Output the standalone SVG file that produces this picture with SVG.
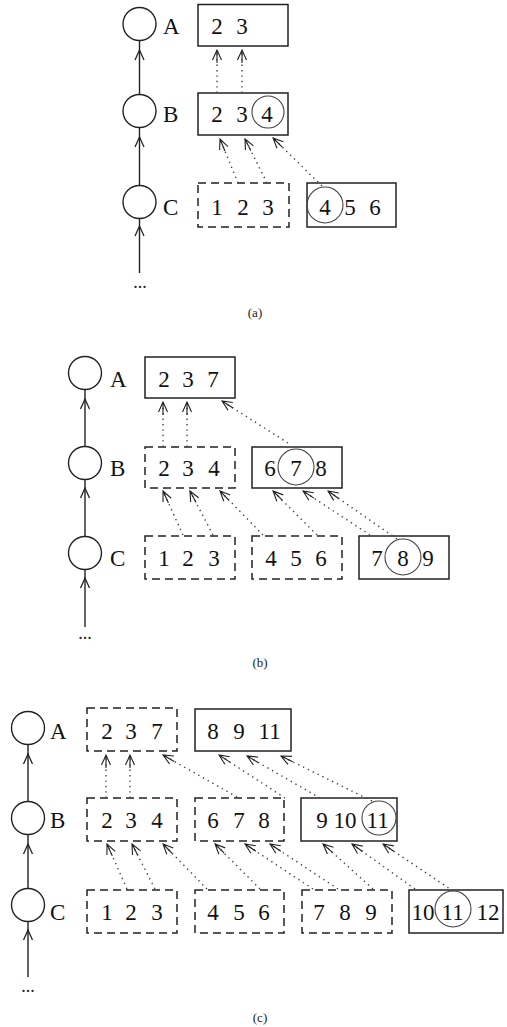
<svg xmlns="http://www.w3.org/2000/svg" width="507" height="1027" viewBox="0 0 507 1027">
<style>
.box{fill:none;stroke:#222;stroke-width:1.5}
.dbox{fill:none;stroke:#222;stroke-width:1.5;stroke-dasharray:8 5}
.node{fill:#fff;stroke:#222;stroke-width:1.4}
.ring{fill:none;stroke:#444;stroke-width:1.1}
.num{font-family:"Liberation Serif",serif;font-size:23px;fill:#111}
.cap{font-family:"Liberation Serif",serif;font-size:13px;fill:#222;text-anchor:middle}
.dots{font-family:"Liberation Serif",serif;font-size:18px;fill:#222;text-anchor:middle}
.dl{fill:none;stroke:#444;stroke-width:1.4;stroke-dasharray:1.4 4;marker-end:url(#ahd)}
.sl{fill:none;stroke:#222;stroke-width:1.4;marker-mid:url(#ahs)}
</style>
<defs>
<marker id="ahd" markerUnits="userSpaceOnUse" markerWidth="30" markerHeight="30" refX="0" refY="0" orient="auto" overflow="visible">
<path d="M-10,-4.5 L0,0 L-10,4.5 M-13,0 L0,0" fill="none" stroke="#222" stroke-width="1.1"/>
</marker>
<marker id="ahs" markerUnits="userSpaceOnUse" markerWidth="30" markerHeight="30" refX="0" refY="0" orient="auto" overflow="visible">
<path d="M-10,-4.5 L0,0 L-10,4.5" fill="none" stroke="#222" stroke-width="1.3"/>
</marker>
</defs>

<!-- ===== Panel (a) ===== -->
<g id="a-nodeA"><circle class="node" cx="139.5" cy="24" r="16.5"/><text class="num" x="163" y="34">A</text></g>
<g id="a-nodeB"><circle class="node" cx="139.5" cy="111" r="16.5"/><text class="num" x="163" y="122">B</text></g>
<g id="a-nodeC"><circle class="node" cx="139.5" cy="202" r="16.5"/><text class="num" x="163" y="215">C</text></g>
<g id="a-more"><text class="dots" x="140" y="288">...</text></g>
<g id="a-A1"><rect class="box" x="198" y="4.5" width="90" height="41.5"/><text class="num" y="34"><tspan x="211.25">2</tspan> <tspan x="236.25">3</tspan></text></g>
<g id="a-B1"><rect class="box" x="198" y="93" width="90" height="42"/><text class="num" y="122"><tspan x="211.25">2</tspan> <tspan x="236.25">3</tspan> <tspan x="261.25">4</tspan></text><circle class="ring" cx="268" cy="112" r="16"/></g>
<g id="a-C1"><rect class="dbox" x="198" y="183" width="91" height="44"/><text class="num" y="215"><tspan x="211.25">1</tspan> <tspan x="237.25">2</tspan> <tspan x="262.25">3</tspan></text></g>
<g id="a-C2"><rect class="box" x="307" y="183" width="89" height="44"/><text class="num" y="215"><tspan x="319.25">4</tspan> <tspan x="344.25">5</tspan> <tspan x="369.25">6</tspan></text><circle class="ring" cx="325" cy="205" r="18"/></g>
<g id="a-connectors">
<path class="sl" d="M139.5,273 L139.5,226 L139.5,218.5"/>
<path class="sl" d="M139.5,185.5 L139.5,137 L139.5,127.5"/>
<path class="sl" d="M139.5,94.5 L139.5,50 L139.5,40.5"/>
<path class="dl" d="M217,93 L217,50"/>
<path class="dl" d="M242,93 L242,50"/>
<path class="dl" d="M238,183 L220,139"/>
<path class="dl" d="M267,183 L245,139"/>
<path class="dl" d="M322,186 L273,138"/>
</g>
<text class="cap" x="255" y="317">(a)</text>

<!-- ===== Panel (b) ===== -->
<g id="b-nodeA"><circle class="node" cx="85" cy="373" r="16.5"/><text class="num" x="110" y="387">A</text></g>
<g id="b-nodeB"><circle class="node" cx="85" cy="463" r="16.5"/><text class="num" x="110" y="476">B</text></g>
<g id="b-nodeC"><circle class="node" cx="85" cy="553" r="16.5"/><text class="num" x="110" y="566">C</text></g>
<g id="b-more"><text class="dots" x="85" y="639">...</text></g>
<g id="b-A1"><rect class="box" x="145" y="357" width="90" height="41"/><text class="num" y="387"><tspan x="158.25">2</tspan> <tspan x="182.25">3</tspan> <tspan x="207.25">7</tspan></text></g>
<g id="b-B1"><rect class="dbox" x="145" y="447" width="90" height="41"/><text class="num" y="476"><tspan x="158.25">2</tspan> <tspan x="182.25">3</tspan> <tspan x="208.25">4</tspan></text></g>
<g id="b-B2"><rect class="box" x="252" y="447" width="90" height="41"/><text class="num" y="476"><tspan x="264.25">6</tspan> <tspan x="290.25">7</tspan> <tspan x="315.25">8</tspan></text><circle class="ring" cx="296" cy="467" r="18"/></g>
<g id="b-C1"><rect class="dbox" x="145" y="536" width="90" height="43"/><text class="num" y="566"><tspan x="158.25">1</tspan> <tspan x="182.25">2</tspan> <tspan x="208.25">3</tspan></text></g>
<g id="b-C2"><rect class="dbox" x="252" y="536" width="90" height="43"/><text class="num" y="566"><tspan x="265.25">4</tspan> <tspan x="290.25">5</tspan> <tspan x="315.25">6</tspan></text></g>
<g id="b-C3"><rect class="box" x="359" y="536" width="90" height="43"/><text class="num" y="566"><tspan x="371.25">7</tspan> <tspan x="397.25">8</tspan> <tspan x="422.25">9</tspan></text><circle class="ring" cx="403" cy="557" r="18"/></g>
<g id="b-connectors">
<path class="sl" d="M85,627 L85,578 L85,569.5"/>
<path class="sl" d="M85,536.5 L85,488 L85,479.5"/>
<path class="sl" d="M85,446.5 L85,399 L85,389.5"/>
<path class="dl" d="M163,447 L163,402"/>
<path class="dl" d="M187,447 L187,402"/>
<path class="dl" d="M288,443 L222,401"/>
<path class="dl" d="M183,535 L163,491"/>
<path class="dl" d="M213,535 L190,491"/>
<path class="dl" d="M263,535 L220,491"/>
<path class="dl" d="M317,535 L273,491"/>
<path class="dl" d="M370,535 L303,491"/>
<path class="dl" d="M397,539 L328,491"/>
</g>
<text class="cap" x="260" y="667">(b)</text>

<!-- ===== Panel (c) ===== -->
<g id="c-nodeA"><circle class="node" cx="28" cy="728" r="16.5"/><text class="num" x="50" y="739">A</text></g>
<g id="c-nodeB"><circle class="node" cx="28" cy="818" r="16.5"/><text class="num" x="50" y="828">B</text></g>
<g id="c-nodeC"><circle class="node" cx="28" cy="905" r="16.5"/><text class="num" x="50" y="920">C</text></g>
<g id="c-more"><text class="dots" x="28" y="992">...</text></g>
<g id="c-A1"><rect class="dbox" x="87" y="708" width="90" height="43"/><text class="num" y="739"><tspan x="101.25">2</tspan> <tspan x="125.25">3</tspan> <tspan x="151.25">7</tspan></text></g>
<g id="c-A2"><rect class="box" x="195" y="709" width="96" height="42"/><text class="num" y="739"><tspan x="207.25">8</tspan> <tspan x="233.25">9</tspan> <tspan x="258.5">11</tspan></text></g>
<g id="c-B1"><rect class="dbox" x="87" y="798" width="90" height="43"/><text class="num" y="828"><tspan x="101.25">2</tspan> <tspan x="125.25">3</tspan> <tspan x="151.25">4</tspan></text></g>
<g id="c-B2"><rect class="dbox" x="195" y="798" width="89" height="43"/><text class="num" y="828"><tspan x="207.25">6</tspan> <tspan x="233.25">7</tspan> <tspan x="258.25">8</tspan></text></g>
<g id="c-B3"><rect class="box" x="301" y="798" width="96" height="43"/><text class="num" y="828"><tspan x="316.25">9</tspan> <tspan x="333.5">10</tspan> <tspan x="366.5">11</tspan></text><circle class="ring" cx="379" cy="818" r="17"/></g>
<g id="c-C1"><rect class="dbox" x="87" y="890" width="90" height="43"/><text class="num" y="920"><tspan x="101.25">1</tspan> <tspan x="125.25">2</tspan> <tspan x="151.25">3</tspan></text></g>
<g id="c-C2"><rect class="dbox" x="195" y="890" width="89" height="43"/><text class="num" y="920"><tspan x="207.25">4</tspan> <tspan x="233.25">5</tspan> <tspan x="258.25">6</tspan></text></g>
<g id="c-C3"><rect class="dbox" x="302" y="890" width="90" height="43"/><text class="num" y="920"><tspan x="313.25">7</tspan> <tspan x="339.25">8</tspan> <tspan x="365.25">9</tspan></text></g>
<g id="c-C4"><rect class="box" x="409" y="890" width="94" height="43"/><text class="num" y="920"><tspan x="411.5">10</tspan><tspan x="441.5">11</tspan><tspan x="476.5">12</tspan></text><circle class="ring" cx="453" cy="909" r="18"/></g>
<g id="c-connectors">
<path class="sl" d="M28,977 L28,930 L28,921.5"/>
<path class="sl" d="M28,888.5 L28,844 L28,834.5"/>
<path class="sl" d="M28,801.5 L28,754 L28,744.5"/>
<path class="dl" d="M106,798 L106,755"/>
<path class="dl" d="M130,798 L130,755"/>
<path class="dl" d="M237,797 L163,755"/>
<path class="dl" d="M285,798 L219,755"/>
<path class="dl" d="M320,798 L247,756"/>
<path class="dl" d="M372,801 L281,756"/>
<path class="dl" d="M127,889 L107,844"/>
<path class="dl" d="M155,889 L132,844"/>
<path class="dl" d="M207,889 L163,844"/>
<path class="dl" d="M260,889 L215,844"/>
<path class="dl" d="M313,889 L245,844"/>
<path class="dl" d="M338,889 L270,844"/>
<path class="dl" d="M373,889 L323,844"/>
<path class="dl" d="M415,889 L352,844"/>
<path class="dl" d="M453,891 L383,844"/>
</g>
<text class="cap" x="260" y="1022">(c)</text>
</svg>
